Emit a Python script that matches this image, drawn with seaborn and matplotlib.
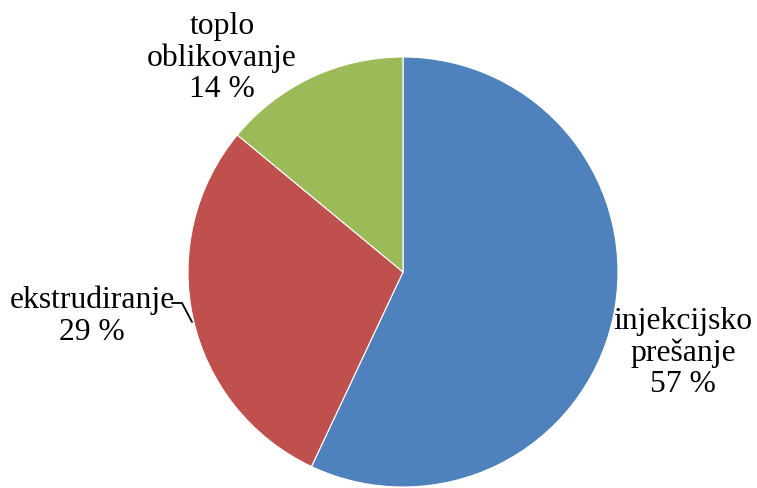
import matplotlib
matplotlib.use('Agg')
import matplotlib.pyplot as plt
import seaborn as sns

sns.set_theme(style='white', context='paper')
plt.rcParams['font.family'] = ['Liberation Serif', 'DejaVu Serif']

labels = ['injekcijsko\nprešanje', 'ekstrudiranje', 'toplo\noblikovanje']
shares = [57, 29, 14]
colors = sns.color_palette(['#4F81BD', '#C0504D', '#9BBB59'])

W, H = 757, 488
fig = plt.figure(figsize=(W / 100, H / 100), dpi=100)
ax = fig.add_axes([0, 0, 1, 1])

cx, cy, r = 403, H - 272, 215
wedges, _ = ax.pie(shares, colors=colors, startangle=90, counterclock=False,
                   center=(cx, cy), radius=r, frame=True,
                   wedgeprops=dict(edgecolor='white', linewidth=0.8))
ax.set_xlim(0, W)
ax.set_ylim(0, H)
ax.set_aspect('equal')
ax.axis('off')

# label positions in pixels (x, y from top)
pos = [(683, 353), (92, 316), (222, 58)]
for lab, v, (px, py) in zip(labels, shares, pos):
    ax.text(px, H - py, '{}\n{} %'.format(lab, v), ha='center', va='center',
            fontsize=22.8, linespacing=1.12, color='black')

# leader line for ekstrudiranje
ax.plot([172, 182, 192], [H - 303, H - 303, H - 322], color='black', lw=1.3)

fig.savefig('out.png', dpi=100)
